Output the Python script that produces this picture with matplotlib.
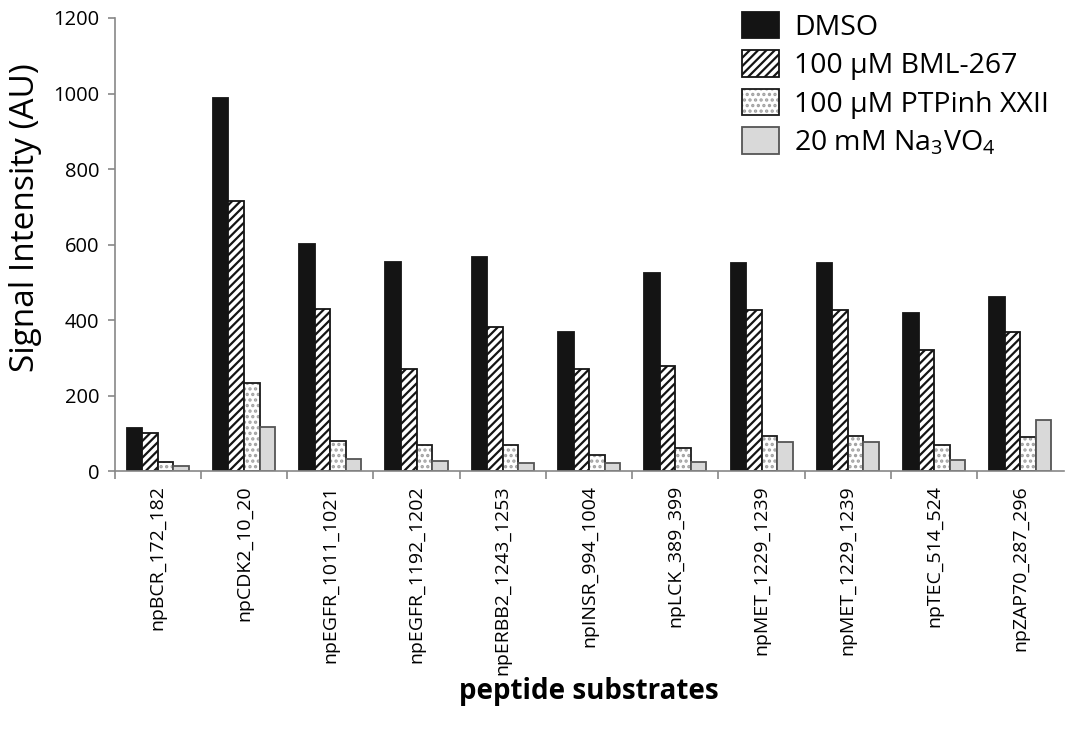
import numpy as np
import matplotlib
matplotlib.use("Agg")
import matplotlib.pyplot as plt

plt.rcParams['font.family'] = ['Open Sans', 'DejaVu Sans']
plt.rcParams['mathtext.fontset'] = 'custom'
plt.rcParams['mathtext.rm'] = 'Open Sans'
plt.rcParams['mathtext.it'] = 'Open Sans'
plt.rcParams['hatch.linewidth'] = 1.6

substrates = ["npBCR_172_182", "npCDK2_10_20", "npEGFR_1011_1021", "npEGFR_1192_1202",
              "npERBB2_1243_1253", "npINSR_994_1004", "npLCK_389_399", "npMET_1229_1239",
              "npMET_1229_1239", "npTEC_514_524", "npZAP70_287_296"]
dmso = [114, 988, 601, 554, 567, 368, 525, 551, 551, 419, 462]
bml267 = [100, 715, 429, 270, 381, 270, 278, 426, 426, 320, 368]
ptpinh = [24, 233, 79, 69, 69, 42, 61, 93, 93, 69, 90]
vanadate = [13, 117, 32, 26, 21, 21, 24, 77, 77, 29, 135]
labels = ["DMSO", "100 µM BML-267", "100 µM PTPinh XXII", r"20 mM Na$_3$VO$_4$"]

fig = plt.figure(figsize=(10.71, 7.34), dpi=100)
ax = fig.add_axes([0.107, 0.358, 0.886, 0.6175])

x = np.arange(len(substrates))
w = 0.18
series = [dmso, bml267, ptpinh, vanadate]
faces = ["#141414", "white", "white", "#d9d9d9"]
hatches = [None, "////", None, None]
edges = ["#141414", "#141414", "#1a1a1a", "#555555"]
handles = []
for i, vals in enumerate(series):
    pos = x + (i - 1.5) * w
    if i == 2:
        # grey dots, dark outline drawn on top
        ax.bar(pos, vals, w, color="white", edgecolor="#a0a0a0", hatch="...", linewidth=0)
        ax.bar(pos, vals, w, fill=False, edgecolor=edges[i], linewidth=1.3)
        h = plt.Rectangle((0, 0), 1, 1, facecolor="white", edgecolor="#a0a0a0", hatch="...", linewidth=0)
        h2 = plt.Rectangle((0, 0), 1, 1, fill=False, edgecolor=edges[i], linewidth=1.3)
        handles.append((h, h2))
    else:
        b = ax.bar(pos, vals, w, color=faces[i], edgecolor=edges[i],
                   hatch=hatches[i], linewidth=1.3)
        handles.append(b)

ax.set_xlim(-0.5, len(substrates) - 0.5)
ax.set_ylim(0, 1200)
ax.set_yticks(np.arange(0, 1201, 200))
ax.set_xticks(x)
ax.set_xticklabels(substrates, rotation=90, fontsize=14)
ax.set_xticks(np.arange(len(substrates)) - 0.5, minor=True)
ax.tick_params(axis='x', which='major', length=0, pad=10)
ax.tick_params(axis='x', which='minor', length=6, color='#888888', width=1.2)
ax.tick_params(axis='y', length=5, color='#888888', width=1.2, labelsize=14.5, pad=6)
for s in ['top', 'right']:
    ax.spines[s].set_visible(False)
for s in ['left', 'bottom']:
    ax.spines[s].set_color('#888888')
    ax.spines[s].set_linewidth(1.2)

ax.set_ylabel("Signal Intensity (AU)", fontsize=24)
ax.yaxis.set_label_coords(-0.077, 0.56)
ax.set_xlabel("peptide substrates", fontsize=20, fontweight='bold', labelpad=2)

ax.legend(handles, labels, loc='upper right', bbox_to_anchor=(1.012, 1.07), frameon=False,
          fontsize=20.5, handlelength=1.3, handleheight=1.05, labelspacing=0.3,
          handletextpad=0.55)

fig.savefig("out.png", dpi=100)
